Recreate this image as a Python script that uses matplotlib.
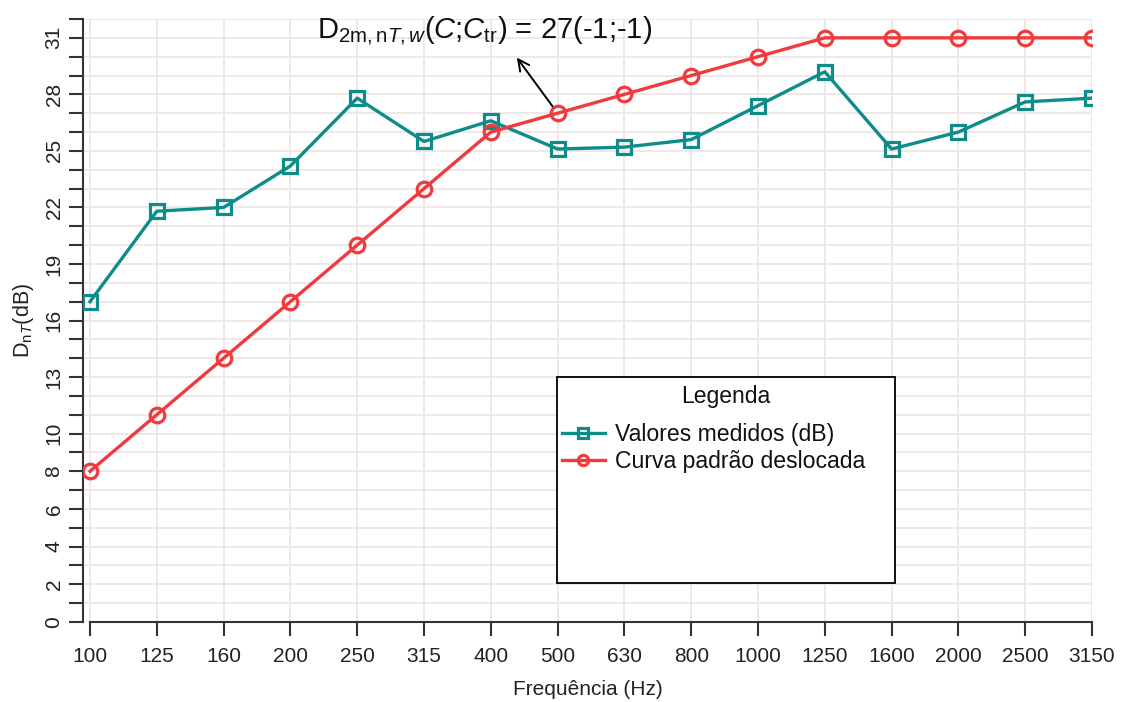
import matplotlib
matplotlib.use("Agg")
import matplotlib.pyplot as plt
from matplotlib.patches import Rectangle
import numpy as np

# ---- data ----
freqs = ["100", "125", "160", "200", "250", "315", "400", "500", "630", "800",
         "1000", "1250", "1600", "2000", "2500", "3150"]
measured = [17.0, 21.8, 22.0, 24.2, 27.8, 25.5, 26.6, 25.1, 25.2, 25.6,
            27.4, 29.2, 25.1, 26.0, 27.6, 27.8]
reference = [8, 11, 14, 17, 20, 23, 26, 27, 28, 29, 30, 31, 31, 31, 31, 31]
ytick_labels = [0, 2, 4, 6, 8, 10, 13, 16, 19, 22, 25, 28, 31]
series_names = ["Valores medidos (dB)", "Curva padrão deslocada"]
rating_text = r"D$_{\mathrm{2m,n}\mathit{T,w}}$($\mathit{C}$;$\mathit{C}_{\mathrm{tr}}$) = 27(-1;-1)"
rating_freq_index = 7

plt.rcParams["font.family"] = ["Liberation Sans", "DejaVu Sans"]
plt.rcParams["mathtext.fontset"] = "custom"
plt.rcParams["mathtext.rm"] = "Liberation Sans"
plt.rcParams["mathtext.it"] = "Liberation Sans:italic"
plt.rcParams["mathtext.bf"] = "Liberation Sans:bold"

teal = "#0E8C89"
red = "#F03A3D"
grid_c = "#EEE6E6"
axis_c = "#333333"

W, H = 1121, 702
fig = plt.figure(figsize=(W / 100, H / 100), dpi=100)
left_px, right_px, bottom_px, top_px = 83, 1092, 622, 19
ax = fig.add_axes([left_px / W, 1 - bottom_px / H,
                   (right_px - left_px) / W, (bottom_px - top_px) / H])

n = len(freqs)
x = np.arange(n)
step = (right_px - 90) / (n - 1)
x0 = -(90 - left_px) / step
ax.set_xlim(x0, n - 1)
ax.set_ylim(0, 32)

# grid
for yy in range(0, 33):
    ax.axhline(yy, color=grid_c, lw=1.3, zorder=0)
for xx in x:
    ax.axvline(xx, color=grid_c, lw=1.3, zorder=0)

ax.plot(x, measured, color=teal, lw=2.4, marker="s", ms=10, mfc="none",
        mec=teal, mew=2.3, zorder=3, label=series_names[0])
ax.plot(x, reference, color=red, lw=2.4, marker="o", ms=10.5, mfc="none",
        mec=red, mew=2.3, zorder=3, label=series_names[1])

# spines
for s in ["top", "right"]:
    ax.spines[s].set_visible(False)
ax.spines["left"].set_bounds(0, 32)
ax.spines["bottom"].set_bounds(0, n - 1)
for s in ["left", "bottom"]:
    ax.spines[s].set_color(axis_c)
    ax.spines[s].set_linewidth(1.5)

ax.set_xticks(x)
ax.set_xticklabels(freqs)
yt = list(range(0, 33))
ax.set_yticks(yt)
ax.set_yticklabels([str(v) if v in ytick_labels else "" for v in yt],
                   rotation=90, va="center")
ax.tick_params(axis="both", length=10, width=1.5, color=axis_c,
               labelsize=15, labelcolor="#222222")
ax.tick_params(axis="y", labelsize=15)
ax.tick_params(axis="x", pad=8)
ax.tick_params(axis="y", pad=4)

ax.set_xlabel("Frequência (Hz)", fontsize=15, color="#222222", labelpad=10)
ax.set_ylabel(r"D$_{\mathrm{n}\mathit{T}}$(dB)", fontsize=15.5, color="#222222",
              labelpad=6)

# rating annotation
ax.text(5.91, 31.0, rating_text, fontsize=21, ha="center", va="baseline",
        color="#111111", clip_on=False, zorder=5)
ax.annotate("", xy=(6.39, 29.95),
            xytext=(rating_freq_index, reference[rating_freq_index]),
            arrowprops=dict(arrowstyle="->", color="black", lw=1.4,
                            shrinkA=6, shrinkB=0, mutation_scale=20),
            zorder=5)

# legend box
bx0, bx1 = (557 - left_px) / (right_px - left_px), (895 - left_px) / (right_px - left_px)
by0, by1 = (bottom_px - 583) / (bottom_px - top_px), (bottom_px - 377) / (bottom_px - top_px)
ax.add_patch(Rectangle((bx0, by0), bx1 - bx0, by1 - by0, transform=ax.transAxes,
                       facecolor="white", edgecolor="black", lw=1.3, zorder=6))
ax.text((bx0 + bx1) / 2, (bottom_px - 397) / (bottom_px - top_px), "Legenda",
        transform=ax.transAxes, ha="center", va="center", fontsize=16.5,
        color="#111111", zorder=7)
leg = ax.legend(loc="upper left",
                bbox_to_anchor=((562 - left_px) / (right_px - left_px),
                                (bottom_px - 423) / (bottom_px - top_px)),
                frameon=False, fontsize=16.6, borderpad=0, borderaxespad=0,
                handlelength=1.85, handletextpad=0.45, labelspacing=0.18,
                markerscale=0.7)
leg.set_zorder(8)
for t in leg.get_texts():
    t.set_color("#111111")

fig.savefig("out.png", dpi=100)
